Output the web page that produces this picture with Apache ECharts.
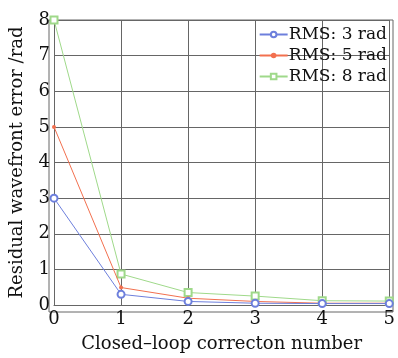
<!DOCTYPE html>
<html>
<head>
<meta charset="utf-8">
<script src="https://cdn.jsdelivr.net/npm/echarts@6/dist/echarts.min.js"></script>
<style>
  html, body { margin: 0; padding: 0; background: #fff; }
  #chart { width: 398px; height: 358px; }
</style>
</head>
<body>
<div id="chart"></div>
<script>
const corrections = [0, 1, 2, 3, 4, 5];
const rms3 = [3, 0.3, 0.1, 0.05, 0.04, 0.04];
const rms5 = [5, 0.49, 0.19, 0.1, 0.05, 0.05];
const rms8 = [8, 0.87, 0.35, 0.25, 0.12, 0.11];
const seriesNames = ['RMS: 3 rad', 'RMS: 5 rad', 'RMS: 8 rad'];

const font = 'DejaVu Serif';
const gridColor = '#666';

function pairs(vals) {
    return vals.map((v, i) => [corrections[i], v]);
}

const chart = echarts.init(document.getElementById('chart'));
chart.setOption({
    animation: false,
    textStyle: { fontFamily: font, color: '#111' },
    grid: { left: 49, right: 5, top: 20, bottom: 46 },
    legend: {
        right: 6,
        top: 21,
        orient: 'vertical',
        itemWidth: 28,
        itemHeight: 7,
        itemGap: 4,
        textStyle: { fontFamily: font, fontSize: 17, color: '#111', padding: [0, 0, 0, -4] },
        data: seriesNames
    },
    xAxis: {
        type: 'value',
        min: 0,
        max: 5,
        interval: 1,
        name: 'Closed–loop correcton number',
        nameLocation: 'middle',
        nameGap: 30,
        nameTextStyle: { fontFamily: font, fontSize: 18, color: '#111' },
        axisLine: { show: true, lineStyle: { color: gridColor } },
        axisTick: { show: false },
        axisLabel: { fontSize: 18, color: '#111', margin: 5 },
        splitLine: { show: true, lineStyle: { color: gridColor, width: 1 } }
    },
    yAxis: {
        type: 'value',
        min: 0,
        max: 8,
        interval: 1,
        name: 'Residual wavefront error /rad',
        nameLocation: 'middle',
        nameGap: 28,
        nameTextStyle: { fontFamily: font, fontSize: 18, color: '#111' },
        axisLine: { show: true, lineStyle: { color: gridColor } },
        axisTick: { show: false },
        axisLabel: { fontSize: 18, color: '#111', margin: 4 },
        splitLine: { show: true, lineStyle: { color: gridColor, width: 1 } }
    },
    series: [
        {
            name: seriesNames[0],
            type: 'line',
            data: pairs(rms3),
            symbol: 'emptyCircle',
            symbolSize: 7,
            color: '#6d7fdc',
            lineStyle: { width: 1 },
            z: 4
        },
        {
            name: seriesNames[1],
            type: 'line',
            data: pairs(rms5),
            symbol: 'circle',
            symbolSize: 4,
            color: '#f2704f',
            lineStyle: { width: 1 },
            z: 3
        },
        {
            name: seriesNames[2],
            type: 'line',
            data: pairs(rms8),
            symbol: 'emptyRect',
            symbolSize: 7,
            color: '#9fd98a',
            lineStyle: { width: 1 },
            z: 2
        }
    ]
});

// frame on top and right
chart.setOption({
    graphic: [{
        type: 'rect',
        shape: { x: 49, y: 20, width: 344, height: 292 },
        style: { fill: 'none', stroke: gridColor, lineWidth: 1 },
        silent: true
    }]
});
</script>
</body>
</html>
